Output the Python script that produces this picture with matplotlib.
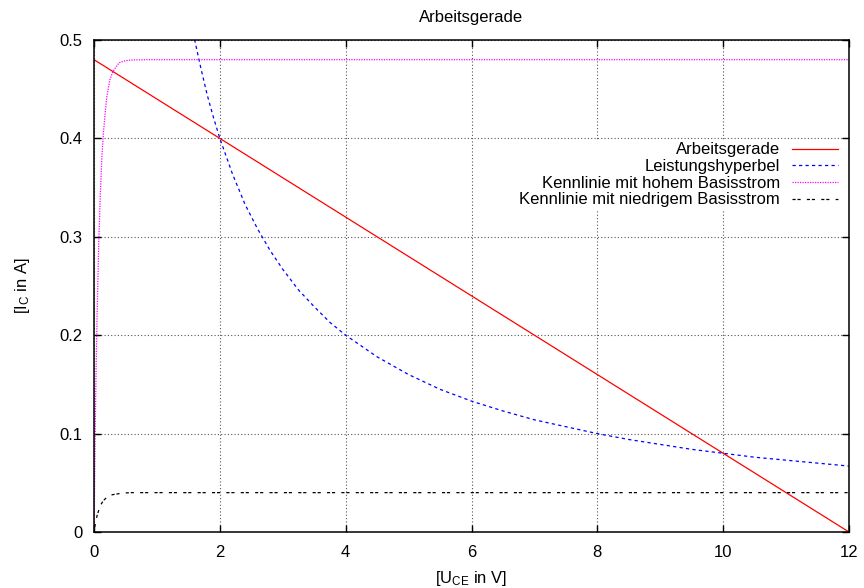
import matplotlib
matplotlib.use('Agg')
import matplotlib.pyplot as plt
from matplotlib.ticker import FormatStrFormatter

plt.rcParams['font.family'] = ['Liberation Sans', 'DejaVu Sans']
plt.rcParams['mathtext.fontset'] = 'custom'
plt.rcParams['mathtext.rm'] = 'Liberation Sans'
plt.rcParams['mathtext.it'] = 'Liberation Sans'

# Arbeitsgerade (load line)
u_gerade = [0, 12]
i_gerade = [0.48, 0.0]

# Leistungshyperbel (power hyperbola)
u_hyp = [1.5, 1.6, 1.7, 1.8, 1.9, 2.0, 2.2, 2.4, 2.6, 2.8, 3.0, 3.25, 3.5, 3.75, 4.0,
         4.5, 5.0, 5.5, 6.0, 6.5, 7.0, 7.5, 8.0, 8.5, 9.0, 9.5, 10.0, 10.5, 11.0, 11.5, 12.0]
i_hyp = [0.533, 0.5, 0.471, 0.444, 0.421, 0.4, 0.364, 0.333, 0.308, 0.286, 0.267, 0.246,
         0.229, 0.213, 0.2, 0.178, 0.16, 0.145, 0.133, 0.123, 0.114, 0.107, 0.1, 0.094,
         0.089, 0.084, 0.08, 0.076, 0.073, 0.070, 0.067]

# Kennlinie mit hohem Basisstrom
u_hoch = [0, 0.01, 0.02, 0.035, 0.05, 0.075, 0.1, 0.125, 0.15, 0.2, 0.25, 0.3, 0.4, 0.5, 0.6, 0.8, 12]
i_hoch = [0, 0.056, 0.106, 0.171, 0.223, 0.293, 0.342, 0.381, 0.406, 0.441, 0.459, 0.468,
          0.477, 0.479, 0.4797, 0.48, 0.48]

# Kennlinie mit niedrigem Basisstrom
u_niedrig = [0, 0.02, 0.05, 0.1, 0.15, 0.2, 0.25, 0.3, 0.4, 0.5, 0.6, 12]
i_niedrig = [0, 0.008, 0.017, 0.027, 0.032, 0.035, 0.037, 0.038, 0.039, 0.0397, 0.04, 0.04]

fig = plt.figure(figsize=(8.64, 5.88), dpi=100)
ax = fig.add_axes([94 / 864, 56 / 588, 755 / 864, 492 / 588])

ax.plot(u_gerade, i_gerade, color='#ff0000', lw=0.9, label='Arbeitsgerade')
ax.plot(u_hyp, i_hyp, color='#0000ff', lw=0.9, dashes=(2.6, 2.6), label='Leistungshyperbel')
ax.plot(u_hoch, i_hoch, color='#ff00ff', lw=0.9, dashes=(1, 1), label='Kennlinie mit hohem Basisstrom')
ax.plot(u_niedrig, i_niedrig, color='black', lw=0.9, dashes=(2.5, 1.5, 2.5, 5),
        label='Kennlinie mit niedrigem Basisstrom')

ax.set_xlim(0, 12)
ax.set_ylim(0, 0.5)
ax.set_xticks(range(0, 13, 2))
ax.set_yticks([0, 0.1, 0.2, 0.3, 0.4, 0.5])
ax.yaxis.set_major_formatter(FormatStrFormatter('%g'))
ax.tick_params(direction='in', length=5, width=1, top=True, right=True, labelsize=12)
ax.tick_params(axis='x', pad=9.6)
ax.tick_params(axis='y', pad=8.2)
ax.grid(True, color='#555555', lw=0.8, dashes=(1, 2))
for s in ax.spines.values():
    s.set_linewidth(1.1)

ax.set_title('Arbeitsgerade', fontsize=12, pad=13)
ax.set_xlabel(r'[U$_\mathrm{CE}$ in V]', fontsize=12, labelpad=6)
ax.set_ylabel(r'[I$_\mathrm{C}$ in A]', fontsize=12, labelpad=20)

leg = ax.legend(loc='upper right', bbox_to_anchor=(0.989, 0.797), markerfirst=False,
                frameon=True, fancybox=False, edgecolor='none', framealpha=1,
                fontsize=12, handlelength=2.8, handletextpad=0.7, labelspacing=0.1,
                borderpad=0.15, borderaxespad=0)

fig.savefig('out.png', dpi=100)
